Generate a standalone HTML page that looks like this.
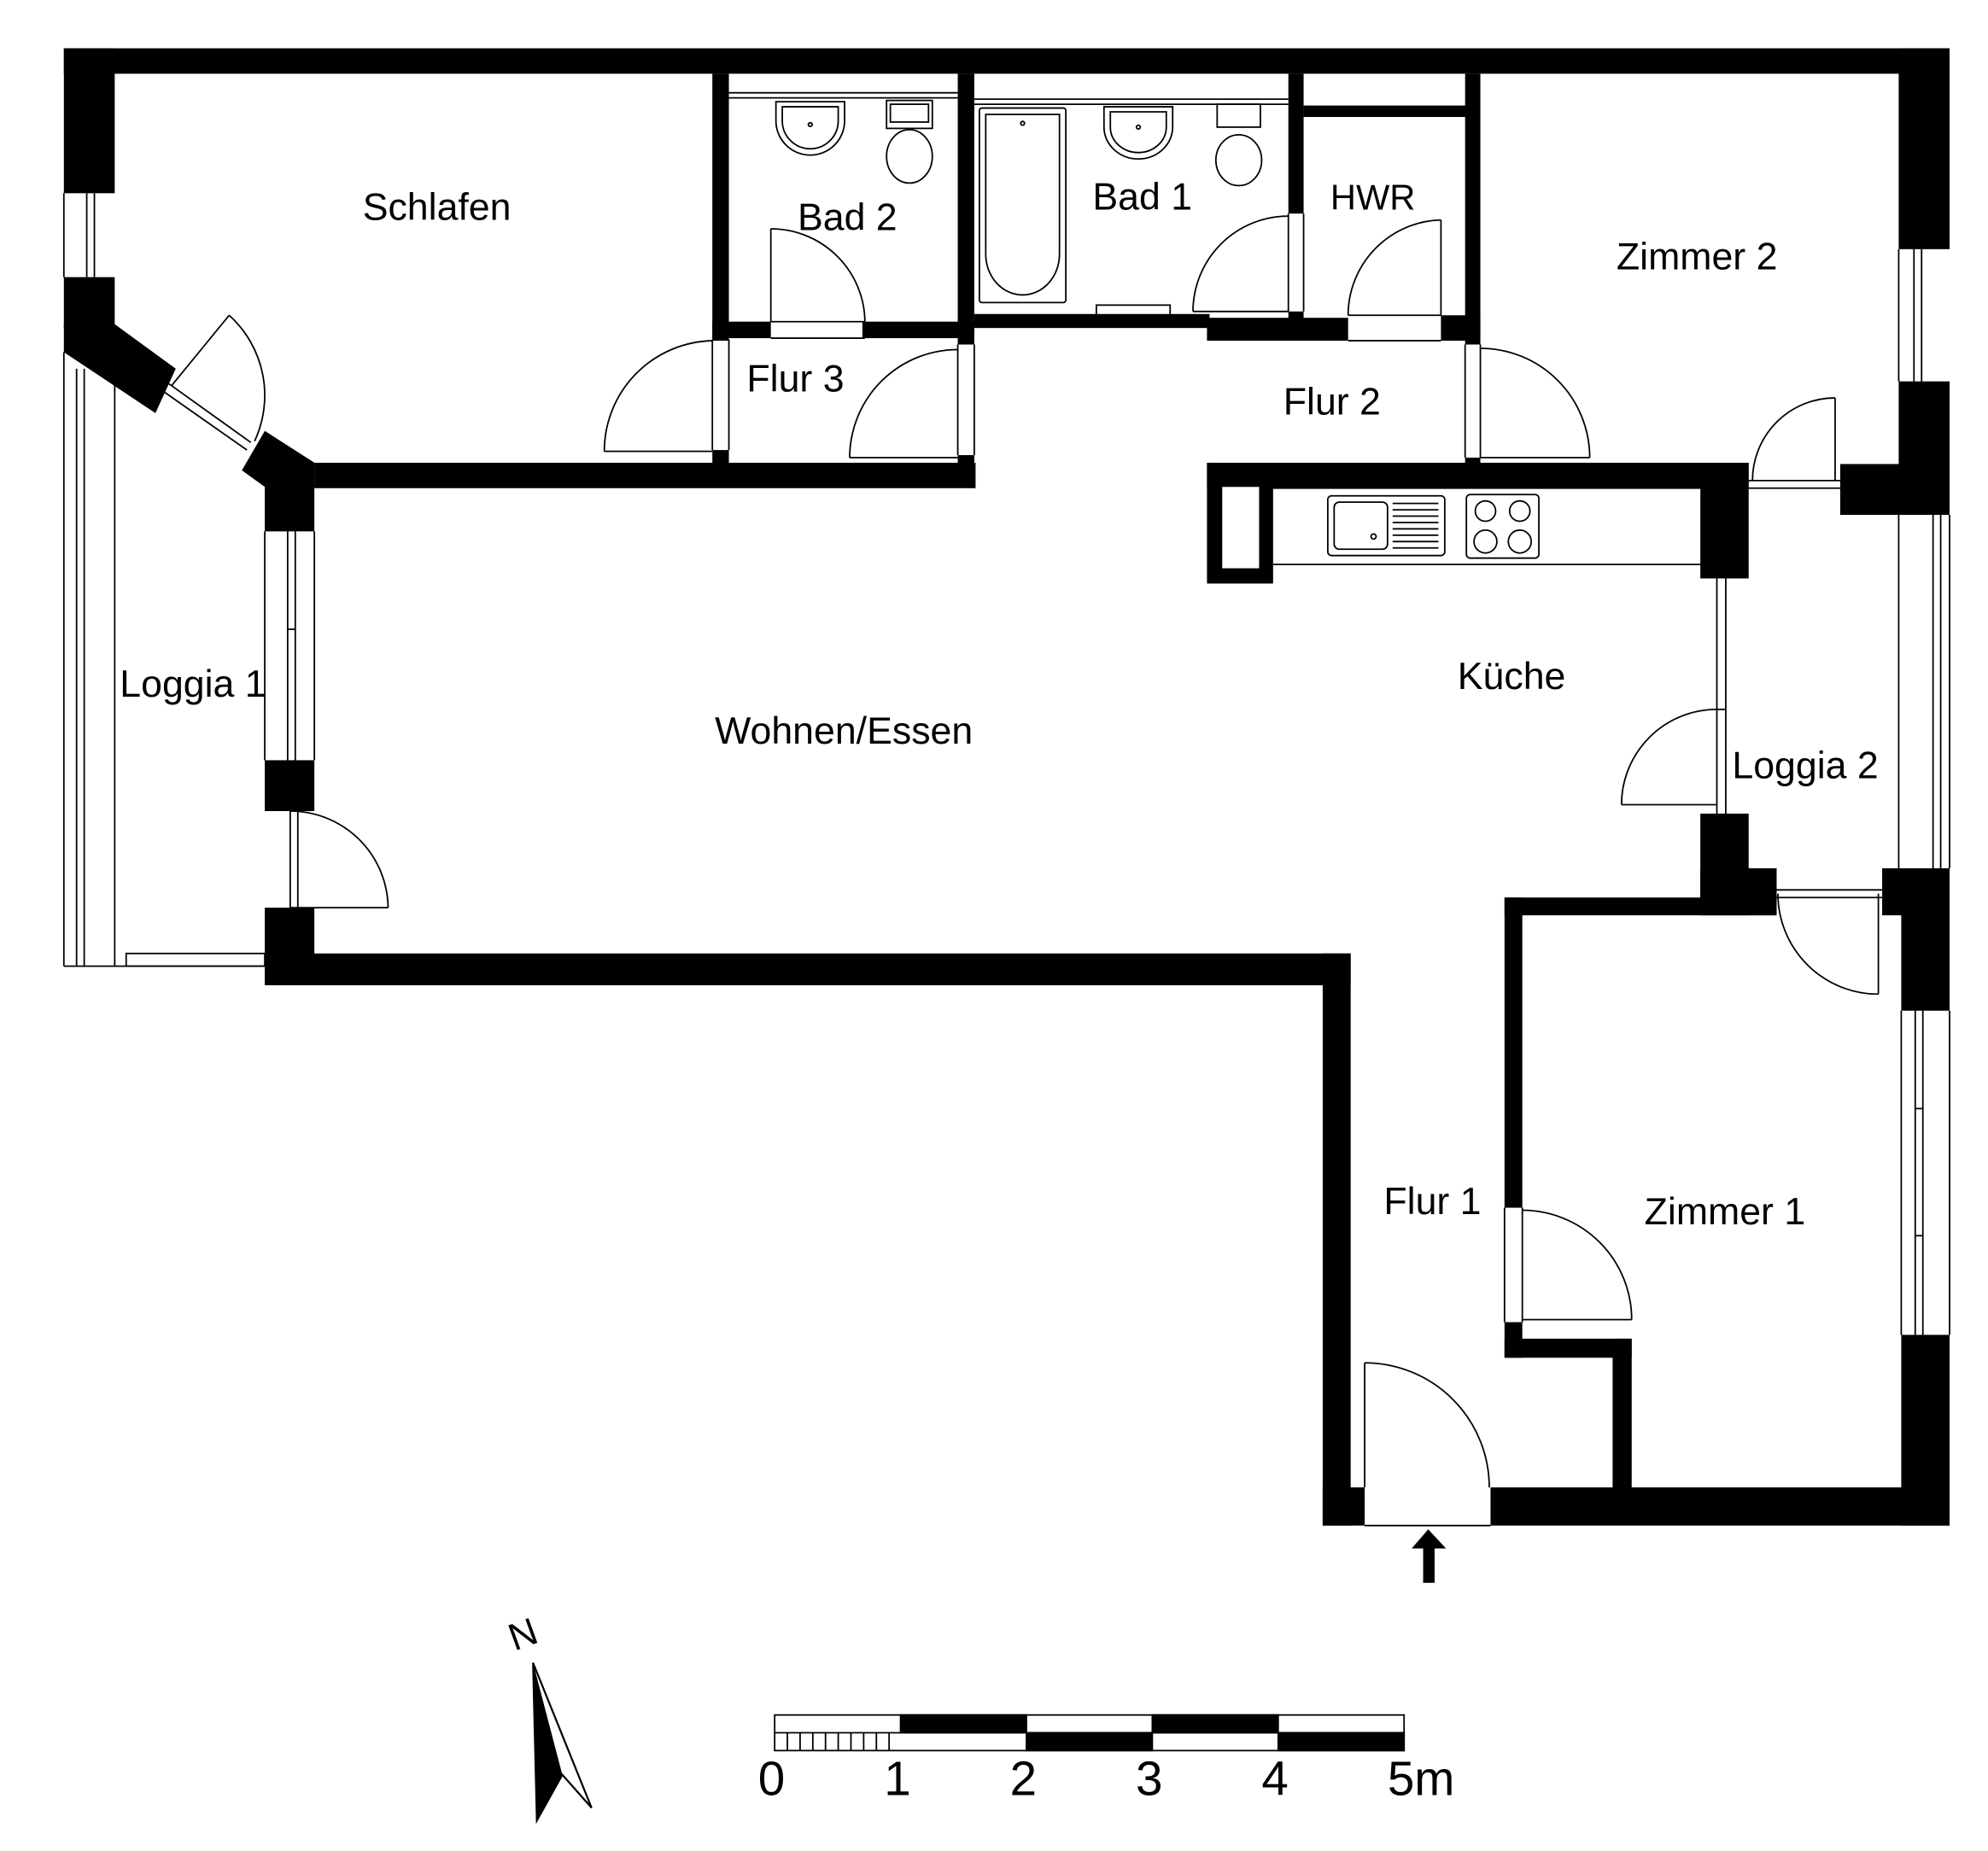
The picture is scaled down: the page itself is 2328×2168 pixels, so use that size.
<!DOCTYPE html>
<html><head><meta charset="utf-8">
<style>
html,body{margin:0;padding:0;background:#fff;}
svg{display:block;}
text{font-family:"Liberation Sans",Arial,sans-serif;fill:#000;}
</style></head>
<body>
<svg width="2328" height="2168" viewBox="0 0 1563 1456" xmlns="http://www.w3.org/2000/svg">
<rect width="1563" height="1456" fill="#fff"/>
<g fill="#000">
<!-- top wall -->
<rect x="50" y="38" width="1483" height="20"/>
<!-- left wall -->
<rect x="50" y="38" width="40" height="114"/>
<rect x="50" y="218" width="40" height="40"/>
<polygon points="50,255 90,255 138,290 122,325 50,277"/>
<polygon points="208,339 247,364 247,383 208,383"/>
<polygon points="190,370 208,339 247,364 247,418 208,418 208,383"/>
<rect x="208" y="598" width="39" height="40"/>
<rect x="208" y="714" width="39" height="60"/>
<rect x="208" y="750" width="854" height="25"/>
<!-- Schlafen bottom wall -->
<rect x="247" y="364" width="520" height="20"/>
<!-- Bad2 / Flur3 -->
<rect x="560" y="58" width="13" height="210"/>
<rect x="560" y="354" width="13" height="12"/>
<rect x="560" y="253" width="46" height="13"/>
<rect x="678" y="253" width="88" height="13"/>
<rect x="753" y="58" width="13" height="213"/>
<rect x="753" y="358" width="13" height="20"/>
<!-- Bad1 / HWR -->
<rect x="766" y="247" width="185" height="11"/>
<rect x="949" y="250" width="111" height="18"/>
<rect x="1013" y="58" width="12" height="110"/>
<rect x="1013" y="245" width="12" height="20"/>
<rect x="1025" y="83" width="128" height="9"/>
<rect x="1133" y="248" width="31" height="20"/>
<rect x="1152" y="58" width="12" height="213"/>
<rect x="1152" y="360" width="12" height="8"/>
<!-- kitchen top wall -->
<rect x="949" y="364" width="426" height="20"/>
<rect x="949" y="364" width="52" height="95"/>
<rect x="1337" y="364" width="38" height="91"/>
<!-- right wall -->
<rect x="1493" y="38" width="40" height="158"/>
<rect x="1493" y="300" width="40" height="70"/>
<rect x="1447" y="365" width="86" height="40"/>
<rect x="1480" y="683" width="53" height="37"/>
<rect x="1495" y="683" width="38" height="112"/>
<rect x="1495" y="1050" width="38" height="150"/>
<!-- kitchen right lower -->
<rect x="1337" y="640" width="38" height="80"/>
<rect x="1337" y="683" width="60" height="37"/>
<!-- Zimmer1 -->
<rect x="1183" y="706" width="214" height="14"/>
<rect x="1183" y="706" width="14" height="244"/>
<rect x="1183" y="1040" width="14" height="28"/>
<rect x="1183" y="1053" width="100" height="15"/>
<rect x="1268" y="1053" width="15" height="130"/>
<!-- bottom -->
<rect x="1040" y="750" width="22" height="450"/>
<rect x="1040" y="1170" width="33" height="30"/>
<rect x="1172" y="1170" width="361" height="30"/>
</g>
<g fill="#fff"><rect x="961" y="383" width="29" height="64"/></g>
<g fill="none" stroke="#000" stroke-width="1.2">
<!-- left window -->
<line x1="68" y1="152" x2="68" y2="218"/><line x1="74" y1="152" x2="74" y2="218"/><line x1="50" y1="152" x2="50" y2="218"/>
<!-- loggia1 -->
<line x1="50" y1="277" x2="50" y2="760"/><line x1="60" y1="290" x2="60" y2="760"/><line x1="66" y1="290" x2="66" y2="760"/>
<line x1="90" y1="303" x2="90" y2="760"/>
<line x1="50" y1="760" x2="208" y2="760"/>
<rect x="99" y="750" width="109" height="10"/>
<!-- living window -->
<line x1="226" y1="418" x2="226" y2="605"/><line x1="232" y1="418" x2="232" y2="605"/><line x1="247" y1="418" x2="247" y2="598"/><line x1="208" y1="418" x2="208" y2="598"/>
<line x1="226" y1="495" x2="232" y2="495"/>
<!-- diagonal door -->
<line x1="130" y1="300" x2="197" y2="348"/><line x1="127" y1="307" x2="194" y2="354"/>
<line x1="135" y1="303" x2="180" y2="248"/>
<path d="M180,248 A85,85 0 0 1 200,347"/>
<!-- door Schlafen-Flur3 -->
<line x1="560" y1="267" x2="560" y2="354"/><line x1="573" y1="267" x2="573" y2="354"/>
<line x1="560" y1="355" x2="475" y2="355"/><path d="M475,355 A87,87 0 0 1 560,268"/>
<!-- door Flur3 right -->
<line x1="753" y1="271" x2="753" y2="358"/><line x1="766" y1="271" x2="766" y2="358"/>
<line x1="753" y1="360" x2="668" y2="360"/><path d="M668,360 A85,85 0 0 1 753,275"/>
<!-- Bad2 door -->
<line x1="606" y1="253" x2="680" y2="253"/><line x1="606" y1="266" x2="680" y2="266"/>
<line x1="606" y1="253" x2="606" y2="180"/><path d="M606,180 A74,74 0 0 1 680,253"/>
<!-- Bad1 door -->
<line x1="1013" y1="168" x2="1013" y2="245"/><line x1="1025" y1="168" x2="1025" y2="245"/>
<line x1="1013" y1="245" x2="938" y2="245"/><path d="M938,245 A75,75 0 0 1 1013,170"/>
<!-- HWR door -->
<line x1="1060" y1="248" x2="1133" y2="248"/><line x1="1060" y1="268" x2="1133" y2="268"/>
<line x1="1133" y1="248" x2="1133" y2="173"/><path d="M1133,173 A75,75 0 0 0 1060,248"/>
<!-- Zimmer2 door -->
<line x1="1152" y1="271" x2="1152" y2="360"/><line x1="1164" y1="271" x2="1164" y2="360"/>
<line x1="1164" y1="360" x2="1250" y2="360"/><path d="M1250,360 A86,86 0 0 0 1164,274"/>
<!-- Zimmer2 window -->
<line x1="1493" y1="196" x2="1493" y2="300"/><line x1="1505" y1="196" x2="1505" y2="300"/><line x1="1511" y1="196" x2="1511" y2="300"/>
<!-- Zimmer2-Loggia2 door -->
<line x1="1375" y1="378" x2="1447" y2="378"/><line x1="1375" y1="384" x2="1447" y2="384"/>
<line x1="1443" y1="378" x2="1443" y2="313"/><path d="M1443,313 A65,65 0 0 0 1378,378"/>
<!-- kitchen counter -->
<line x1="1001" y1="384" x2="1337" y2="384"/><line x1="1001" y1="444" x2="1341" y2="444"/>
<rect x="1044" y="390" width="92" height="47" rx="3"/><rect x="1049" y="395" width="42" height="37" rx="4"/>
<circle cx="1080" cy="422" r="2"/>
<line x1="1095" y1="396" x2="1131" y2="396"/><line x1="1095" y1="401" x2="1131" y2="401"/><line x1="1095" y1="406" x2="1131" y2="406"/><line x1="1095" y1="411" x2="1131" y2="411"/><line x1="1095" y1="416" x2="1131" y2="416"/><line x1="1095" y1="421" x2="1131" y2="421"/><line x1="1095" y1="426" x2="1131" y2="426"/><line x1="1095" y1="431" x2="1131" y2="431"/>
<rect x="1153" y="389" width="57" height="50" rx="3"/>
<circle cx="1168" cy="402" r="8"/><circle cx="1195" cy="402" r="8"/><circle cx="1168" cy="426" r="9"/><circle cx="1195" cy="426" r="9"/>
<!-- kitchen/loggia2 glazing -->
<line x1="1350" y1="455" x2="1350" y2="640"/><line x1="1357" y1="455" x2="1357" y2="640"/>
<line x1="1350" y1="558" x2="1357" y2="558"/>
<line x1="1350" y1="633" x2="1275" y2="633"/><path d="M1275,633 A75,75 0 0 1 1350,558"/>
<!-- loggia2 window -->
<line x1="1493" y1="405" x2="1493" y2="683"/><line x1="1520" y1="405" x2="1520" y2="683"/><line x1="1526" y1="405" x2="1526" y2="683"/><line x1="1533" y1="405" x2="1533" y2="683"/>
<!-- Loggia2-Zimmer1 door -->
<line x1="1397" y1="700" x2="1480" y2="700"/><line x1="1397" y1="706" x2="1480" y2="706"/>
<line x1="1477" y1="703" x2="1477" y2="782"/><path d="M1477,782 A79,79 0 0 1 1398,703"/>
<!-- Zimmer1 window -->
<line x1="1495" y1="795" x2="1495" y2="1050"/><line x1="1506" y1="795" x2="1506" y2="1050"/><line x1="1512" y1="795" x2="1512" y2="1050"/><line x1="1533" y1="795" x2="1533" y2="1050"/>
<line x1="1506" y1="872" x2="1512" y2="872"/><line x1="1506" y1="972" x2="1512" y2="972"/>
<!-- Zimmer1 door -->
<line x1="1183" y1="950" x2="1183" y2="1040"/><line x1="1197" y1="950" x2="1197" y2="1040"/>
<line x1="1197" y1="1038" x2="1283" y2="1038"/><path d="M1283,1038 A86,86 0 0 0 1197,952"/>
<!-- living-loggia door -->
<line x1="228" y1="638" x2="228" y2="714"/><line x1="234" y1="638" x2="234" y2="714"/>
<line x1="228" y1="714" x2="305" y2="714"/><path d="M305,714 A77,77 0 0 0 228,638"/>
<!-- entrance -->
<line x1="1073" y1="1200" x2="1172" y2="1200"/>
<line x1="1073" y1="1170" x2="1073" y2="1072"/><path d="M1073,1072 A98,98 0 0 1 1171,1170"/>
<!-- Bad2 fixtures -->
<line x1="573" y1="73" x2="753" y2="73"/><line x1="573" y1="77" x2="753" y2="77"/>
<path d="M610,80 L610,95 A27,27 0 0 0 664,95 L664,80 Z"/><path d="M615,84 L615,95 A22,22 0 0 0 659,95 L659,84 Z"/><circle cx="637" cy="98" r="1.5"/>
<rect x="697" y="79" width="36" height="22"/><rect x="700" y="82" width="30" height="14"/>
<ellipse cx="715" cy="123" rx="18" ry="21"/>
<!-- Bad1 fixtures -->
<line x1="766" y1="78" x2="1013" y2="78"/><line x1="766" y1="82" x2="1013" y2="82"/>
<rect x="770" y="85" width="68" height="153" rx="2"/>
<path d="M775,90 L833,90 L833,200 A29,32 0 0 1 775,200 Z"/><circle cx="804" cy="97" r="1.5"/>
<rect x="862" y="240" width="58" height="8"/>
<path d="M868,84 L868,100 A27,25 0 0 0 922,100 L922,84 Z"/><path d="M873,88 L873,100 A22,20 0 0 0 917,100 L917,88 Z"/><circle cx="895" cy="100" r="1.5"/>
<rect x="957" y="82" width="34" height="18"/><ellipse cx="974" cy="126" rx="18" ry="20"/>
</g>
<!-- labels -->
<g font-size="30">
<text x="285" y="173">Schlafen</text>
<text x="627" y="181">Bad 2</text>
<text x="859" y="165">Bad 1</text>
<text x="1046" y="165" font-size="28">HWR</text>
<text x="1271" y="212">Zimmer 2</text>
<text x="587" y="308">Flur 3</text>
<text x="1009" y="326">Flur 2</text>
<text x="94" y="548">Loggia 1</text>
<text x="562" y="585">Wohnen/Essen</text>
<text x="1146" y="542">Küche</text>
<text x="1362" y="612">Loggia 2</text>
<text x="1088" y="955">Flur 1</text>
<text x="1293" y="963">Zimmer 1</text>
</g>
<!-- entrance arrow -->
<polygon points="1123,1203 1110,1218 1119,1218 1119,1245 1128,1245 1128,1218 1137,1218" fill="#000"/>
<!-- north arrow -->
<text x="400" y="1296" font-size="30" transform="rotate(-20 410 1285)">N</text>
<polygon points="419,1308 465,1422 442,1396 422,1432" fill="#fff" stroke="#000" stroke-width="1.5"/>
<polygon points="419,1308 442,1396 422,1432" fill="#000"/>
<!-- scale bar -->
<g stroke="#000" stroke-width="1.2">
<rect x="609" y="1349" width="495" height="28" fill="#fff"/>
<rect x="708" y="1349" width="99" height="14" fill="#000"/>
<rect x="906" y="1349" width="99" height="14" fill="#000"/>
<rect x="807" y="1363" width="99" height="14" fill="#000"/>
<rect x="1005" y="1363" width="99" height="14" fill="#000"/>
<line x1="609" y1="1363" x2="1104" y2="1363"/>
<path d="M619,1363v14M629,1363v14M639,1363v14M649,1363v14M659,1363v14M669,1363v14M679,1363v14M689,1363v14M699,1363v14" fill="none"/>
</g>
<g font-size="38">
<text x="596" y="1412">0</text>
<text x="695" y="1412">1</text>
<text x="794" y="1412">2</text>
<text x="893" y="1412">3</text>
<text x="992" y="1412">4</text>
<text x="1091" y="1412">5m</text>
</g>
</svg>
</body></html>
